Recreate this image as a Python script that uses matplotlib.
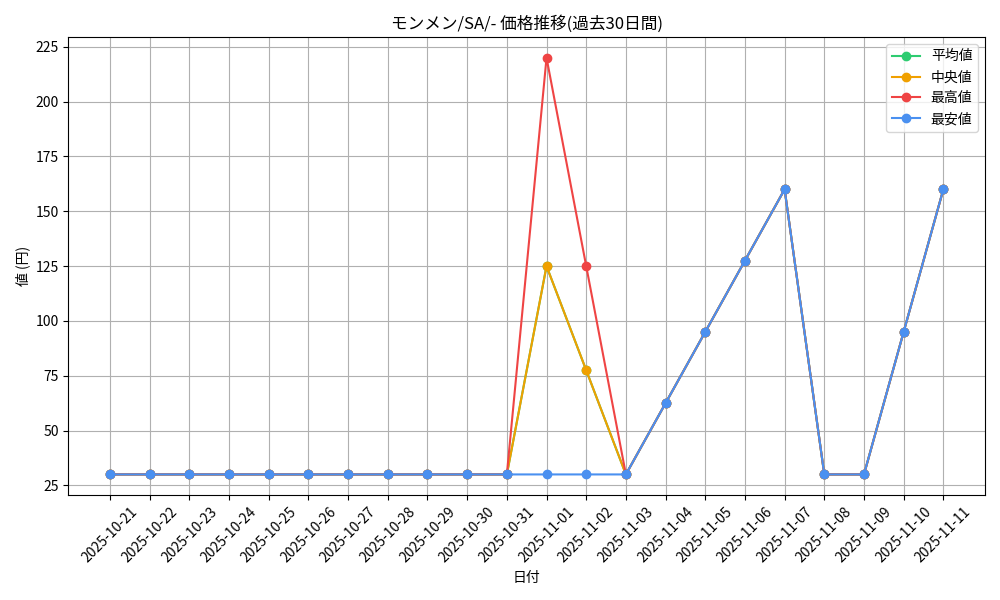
import matplotlib
matplotlib.use('Agg')
import matplotlib.pyplot as plt

plt.rcParams['font.family'] = ['Noto Sans CJK JP', 'DejaVu Sans']

dates = ['2025-10-21', '2025-10-22', '2025-10-23', '2025-10-24', '2025-10-25', '2025-10-26',
         '2025-10-27', '2025-10-28', '2025-10-29', '2025-10-30', '2025-10-31', '2025-11-01',
         '2025-11-02', '2025-11-03', '2025-11-04', '2025-11-05', '2025-11-06', '2025-11-07',
         '2025-11-08', '2025-11-09', '2025-11-10', '2025-11-11']
mean_vals = [30] * 11 + [125, 77.5, 30, 62.5, 95, 127.5, 160, 30, 30, 95, 160]
median_vals = [30] * 11 + [125, 77.5, 30, 62.5, 95, 127.5, 160, 30, 30, 95, 160]
max_vals = [30] * 11 + [220, 125, 30, 62.5, 95, 127.5, 160, 30, 30, 95, 160]
min_vals = [30] * 11 + [30, 30, 30, 62.5, 95, 127.5, 160, 30, 30, 95, 160]

fig, ax = plt.subplots(figsize=(10, 6), dpi=100)
ax.plot(dates, mean_vals, marker='o', color='#2ecc71', label='平均値')
ax.plot(dates, median_vals, marker='o', color='#f0a000', label='中央値')
ax.plot(dates, max_vals, marker='o', color='#ef4444', label='最高値')
ax.plot(dates, min_vals, marker='o', color='#4a90f0', label='最安値')

ax.set_title('モンメン/SA/- 価格推移(過去30日間)')
ax.set_xlabel('日付')
ax.set_ylabel('値 (円)')
ax.grid(True)
ax.legend(loc='upper right')
plt.xticks(rotation=45)
plt.tight_layout()
plt.savefig('out.png')
